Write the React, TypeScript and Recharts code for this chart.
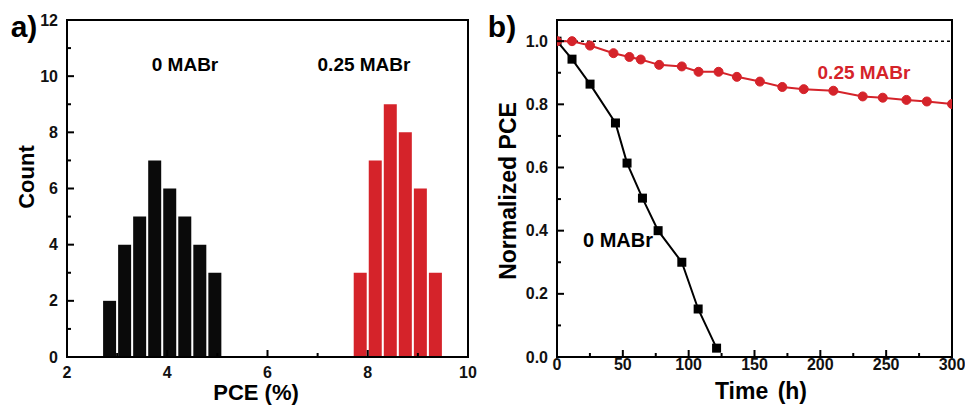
import { BarChart, Bar, Cell, XAxis, YAxis, ReferenceArea, LineChart, Line, ReferenceLine } from 'recharts';

// a) PCE histograms (bin centres, bin width 0.3 %)
const pceBins0 = [2.85, 3.15, 3.45, 3.75, 4.05, 4.35, 4.65, 4.95];
const counts0 = [2, 4, 5, 7, 6, 5, 4, 3];
const pceBins025 = [7.85, 8.15, 8.45, 8.75, 9.05, 9.35];
const counts025 = [3, 7, 9, 8, 6, 3];
const pceTicks = [2, 3, 4, 5, 6, 7, 8, 9, 10];
const countTicks = [0, 1, 2, 3, 4, 5, 6, 7, 8, 9, 10, 11, 12];

// b) normalized PCE vs time
const time0 = [0, 11.4, 25.1, 44.4, 53.2, 64.9, 76.8, 94.8, 107.2, 121.2];
const norm0 = [1.0, 0.943, 0.864, 0.741, 0.614, 0.503, 0.4, 0.3, 0.152, 0.028];
const time025 = [0, 11.4, 25.1, 42.9, 55, 63.6, 77.6, 94.8, 107.5, 122.7, 136.6, 154.1, 171.1, 187.4, 209.9, 232.2, 247.4, 265.4, 280.9, 300];
const norm025 = [1.0, 1.0, 0.986, 0.962, 0.95, 0.942, 0.925, 0.92, 0.903, 0.903, 0.887, 0.872, 0.855, 0.848, 0.843, 0.825, 0.821, 0.814, 0.809, 0.801];
const timeTicks = [0, 25, 50, 75, 100, 125, 150, 175, 200, 225, 250, 275, 300];
const normTicks = [0, 0.1, 0.2, 0.3, 0.4, 0.5, 0.6, 0.7, 0.8, 0.9, 1.0];

const RED = '#d5232a';
const FONT = '"Liberation Sans", Arial, sans-serif';

const histData = [
  ...pceBins0.map((pce, i) => ({ pce, count: counts0[i], group: 0 })),
  ...pceBins025.map((pce, i) => ({ pce, count: counts025[i], group: 1 })),
];
const data0 = time0.map((t, i) => ({ t, v: norm0[i] }));
const data025 = time025.map((t, i) => ({ t, v: norm025[i] }));

type TickOpts = {
  side: 'left' | 'bottom';
  edge: number;
  gap: number;
  major: (v: number) => boolean;
  fmt: (v: number) => string;
};

// inward ticks, labels only on the major ones
const makeTick = (o: TickOpts) => (props: any) => {
  const v = props.payload.value;
  const isMajor = o.major(v);
  const len = isMajor ? 7 : 4;
  if (o.side === 'left') {
    return (
      <g key={`l-${v}`}>
        <line x1={o.edge} x2={o.edge + len} y1={props.y} y2={props.y} stroke="#000" strokeWidth={2} />
        {isMajor && (
          <text x={o.edge - o.gap} y={props.y} textAnchor="end" dominantBaseline="central"
            fontSize={16} fontWeight={700} fill="#111" fontFamily={FONT}>
            {o.fmt(v)}
          </text>
        )}
      </g>
    );
  }
  return (
    <g key={`b-${v}`}>
      <line x1={props.x} x2={props.x} y1={o.edge} y2={o.edge - len} stroke="#000" strokeWidth={2} />
      {isMajor && (
        <text x={props.x} y={o.edge + o.gap} textAnchor="middle" dominantBaseline="hanging"
          fontSize={16} fontWeight={700} fill="#111" fontFamily={FONT}>
          {o.fmt(v)}
        </text>
      )}
    </g>
  );
};

const abs = (extra: React.CSSProperties): React.CSSProperties => ({
  position: 'absolute',
  fontFamily: FONT,
  fontWeight: 700,
  whiteSpace: 'nowrap',
  transform: 'translate(-50%, -50%)',
  ...extra,
});

const SquareDot = (props: any) => {
  const { cx, cy, index } = props;
  return <rect key={`sq-${index}`} x={cx - 4.5} y={cy - 4.5} width={9} height={9} fill="#000" />;
};

export default function App() {
  return (
    <div style={{ position: 'absolute', left: 0, top: 0, width: 965, height: 406, background: '#fff', fontFamily: FONT }}>
      {/* panel a */}
      <div style={{ position: 'absolute', left: 0, top: 0 }}>
        <BarChart width={480} height={406} data={histData} margin={{ top: 20, right: 12, bottom: 9, left: 7 }}>
          <XAxis dataKey="pce" type="number" domain={[2, 10]} allowDataOverflow ticks={pceTicks} interval={0}
            height={40} tickSize={0} axisLine={{ stroke: '#000', strokeWidth: 2 }} tickLine={false}
            tick={makeTick({ side: 'bottom', edge: 357, gap: 10, major: (v) => v % 2 === 0, fmt: String })} />
          <YAxis type="number" domain={[0, 12]} allowDataOverflow ticks={countTicks} interval={0}
            width={60} tickSize={0} axisLine={{ stroke: '#000', strokeWidth: 2 }} tickLine={false}
            tick={makeTick({ side: 'left', edge: 67, gap: 9, major: (v) => v % 2 === 0, fmt: String })} />
          <Bar dataKey="count" barSize={13} isAnimationActive={false}>
            {histData.map((d, i) => (
              <Cell key={i} fill={d.group === 0 ? '#0a0a0a' : RED} />
            ))}
          </Bar>
          <ReferenceArea x1={2} x2={10} y1={0} y2={12} fill="none" fillOpacity={0} stroke="#000" strokeWidth={2} />
        </BarChart>
      </div>

      {/* panel b */}
      <div style={{ position: 'absolute', left: 480, top: 0 }}>
        <LineChart width={485} height={406} margin={{ top: 20, right: 13, bottom: 9, left: 17 }}>
          <XAxis dataKey="t" type="number" domain={[0, 300]} allowDataOverflow ticks={timeTicks} interval={0}
            height={40} tickSize={0} axisLine={{ stroke: '#000', strokeWidth: 2 }} tickLine={false}
            tick={makeTick({ side: 'bottom', edge: 357, gap: 2, major: (v) => v % 50 === 0, fmt: String })} />
          <YAxis type="number" domain={[0, 1.067]} allowDataOverflow ticks={normTicks} interval={0}
            width={60} tickSize={0} axisLine={{ stroke: '#000', strokeWidth: 2 }} tickLine={false}
            tick={makeTick({ side: 'left', edge: 77, gap: 9, major: (v) => Math.round(v * 10) % 2 === 0, fmt: (v) => v.toFixed(1) })} />
          <ReferenceLine y={1} stroke="#000" strokeWidth={1.5} strokeDasharray="3 3" />
          <Line data={data0} dataKey="v" stroke="#000" strokeWidth={2} dot={SquareDot} isAnimationActive={false} />
          <Line data={data025} dataKey="v" stroke={RED} strokeWidth={2}
            dot={{ r: 4.5, fill: RED, stroke: RED, strokeWidth: 1 }} isAnimationActive={false} />
          <ReferenceArea x1={0} x2={300} y1={0} y2={1.067} fill="none" fillOpacity={0} stroke="#000" strokeWidth={2} />
        </LineChart>
      </div>

      {/* panel letters, titles, annotations */}
      <div style={abs({ left: 24, top: 27, fontSize: 30 })}>a)</div>
      <div style={abs({ left: 502, top: 27, fontSize: 30 })}>b)</div>

      <div style={abs({ left: 27, top: 177, fontSize: 22, transform: 'translate(-50%, -50%) rotate(-90deg)' })}>Count</div>
      <div style={abs({ left: 256, top: 393, fontSize: 22 })}>PCE (%)</div>
      <div style={abs({ left: 508, top: 191, fontSize: 23, transform: 'translate(-50%, -50%) rotate(-90deg)' })}>Normalized PCE</div>
      <div style={abs({ left: 761, top: 391, fontSize: 23, wordSpacing: 3 })}>Time (h)</div>

      <div style={abs({ left: 185, top: 65, fontSize: 19 })}>0 MABr</div>
      <div style={abs({ left: 364, top: 65, fontSize: 19 })}>0.25 MABr</div>
      <div style={abs({ left: 864, top: 73, fontSize: 19, color: RED })}>0.25 MABr</div>
      <div style={abs({ left: 618, top: 240, fontSize: 20 })}>0 MABr</div>
    </div>
  );
}
